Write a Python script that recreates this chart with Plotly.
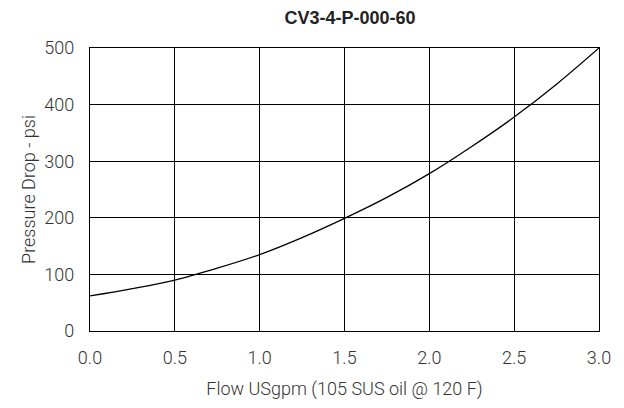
import plotly.graph_objects as go

flow = [0.0, 0.25, 0.5, 0.75, 1.0, 1.25, 1.5, 1.75, 2.0, 2.25, 2.5, 2.75, 3.0]
pressure = [62, 75, 90, 111, 135, 165, 199, 236, 278, 326, 378, 436, 500]

x_ticks = [0.0, 0.5, 1.0, 1.5, 2.0, 2.5, 3.0]
x_tick_labels = ["0.0", "0.5", "1.0", "1.5", "2.0", "2.5", "3.0"]
y_ticks = [0, 100, 200, 300, 400, 500]

tick_font = dict(family="Roboto, sans-serif", size=18, color="#333333", weight=300)
axis_title_font = dict(family="Roboto, Liberation Sans, sans-serif", size=18, color="#333333", weight=300)

fig = go.Figure()
fig.add_trace(go.Scatter(x=flow, y=pressure, mode="lines", line=dict(color="black", width=1.3, shape="spline"),
                         showlegend=False, hoverinfo="skip"))

W, H = 616, 400
L, R, T, B = 82, 25, 40, 77
fig.update_layout(
    width=W, height=H,
    margin=dict(l=L, r=R, t=T, b=B),
    paper_bgcolor="white", plot_bgcolor="white",
    title=dict(text="<b>CV3-4-P-000-60</b>", x=342 / W, xanchor="center", y=1 - 10 / H, yanchor="middle",
               font=dict(family="Liberation Sans, Arial, sans-serif", size=18, color="#222222")),
    xaxis=dict(range=[0, 3], tickvals=x_ticks, ticktext=x_tick_labels, showgrid=True, gridcolor="black", gridwidth=1,
               showline=True, linecolor="black", linewidth=1.2, mirror=True, zeroline=False, ticks="",
               tickfont=tick_font, ticklabelstandoff=10,
               title=dict(text="Flow USgpm (105 SUS oil @ 120 F)", standoff=15, font=axis_title_font)),
    yaxis=dict(range=[0, 500], tickvals=y_ticks, showgrid=True, gridcolor="black", gridwidth=1,
               showline=True, linecolor="black", linewidth=1.2, mirror=True, zeroline=False, ticks="",
               tickfont=tick_font, ticklabelstandoff=11,
               title=dict(text="Pressure Drop - psi", standoff=4, font=axis_title_font)),
)

fig.write_html("out.html")
